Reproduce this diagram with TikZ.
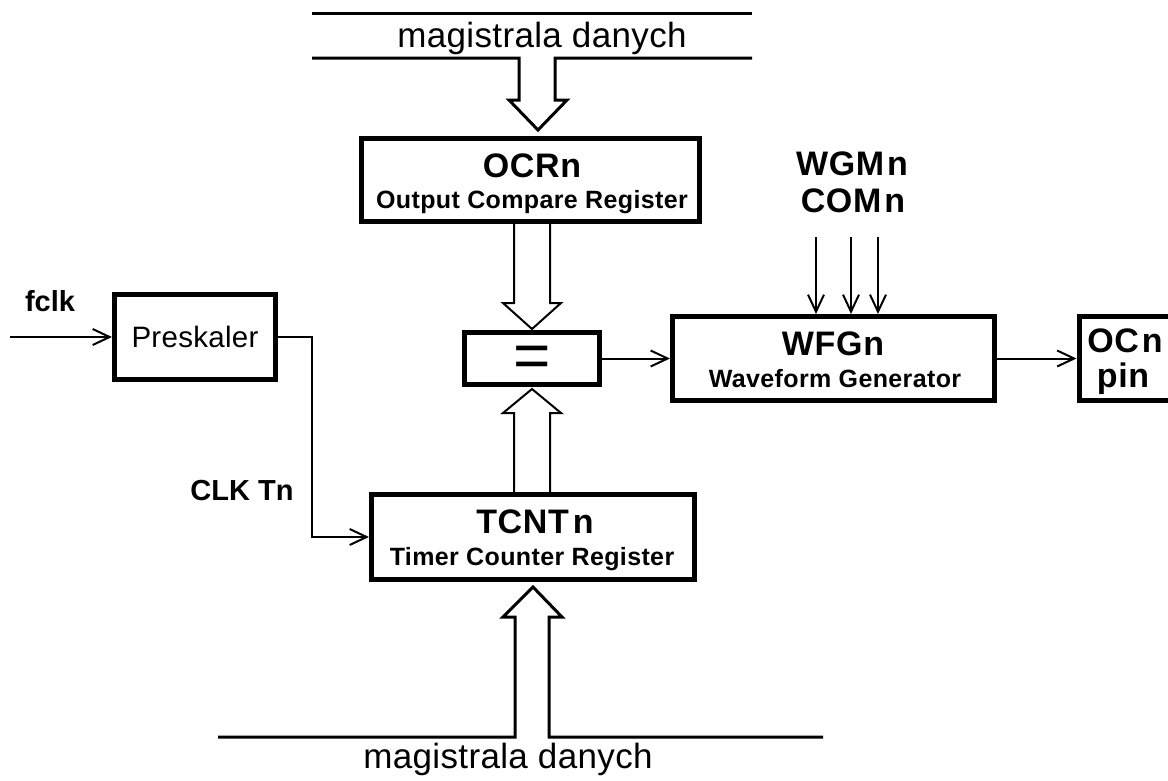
\documentclass[tikz,border=0pt]{standalone}
\usepackage{fontspec}
\setmainfont{Liberation Sans}
\usetikzlibrary{arrows.meta,calc}
\begin{document}
\begin{tikzpicture}[x=1pt,y=-1pt,inner sep=0pt,
  box/.style={draw,line width=5pt,inner sep=0pt,line join=miter},
  conn/.style={line width=2pt,-{Straight Barb[length=17pt,width=16pt]}},
  bus/.style={line width=3pt,line join=miter},
  hollow/.style={line width=2pt,line join=miter},
  ttl/.style={anchor=base,font=\fontsize{34}{34}\selectfont\bfseries\addfontfeature{LetterSpace=2}},
  subt/.style={anchor=base,font=\fontsize{25}{25}\selectfont\bfseries\addfontfeature{LetterSpace=1.5}},
  lbl/.style={anchor=base,font=\fontsize{29}{29}\selectfont\bfseries},
  bustxt/.style={anchor=base,font=\fontsize{35}{35}\selectfont\addfontfeature{LetterSpace=1}}]
\useasboundingbox (0,0) rectangle (1168,780);

% boxes
\node[box,minimum width=338pt,minimum height=83pt] (ocr) at (530,180) {};
\node[box,minimum width=135pt,minimum height=52pt] (eq) at (532,358.5) {};
\node[box,minimum width=323pt,minimum height=85pt] (tcnt) at (533,537) {};
\node[box,minimum width=161pt,minimum height=85pt,font=\fontsize{29.5}{29.5}\selectfont\addfontfeature{LetterSpace=1}] (pre) at (195,337) {Preskaler};
\node[box,minimum width=322pt,minimum height=84pt] (wfg) at (833.5,358.5) {};
\node[box,minimum width=98pt,minimum height=84pt] (ocn) at (1128,358.5) {};

% texts in boxes
\node[ttl] (ocrT) at (532,177) {OCRn};
\node[subt] (ocrS) at (532,208.5) {Output Compare Register};
\node[anchor=base,font=\fontsize{64}{64}\selectfont] (eqT) at (532,377) {=};
\node[ttl] (tcntT) at (535,533) {TCNT\kern4pt n};
\node[subt] (tcntS) at (532,565) {Timer Counter Register};
\node[ttl] (wfgT) at (833,355) {WFGn};
\node[subt] (wfgS) at (835,387) {Waveform Generator};
\node[ttl] (ocnT) at (1125,352) {OC\kern3pt n};
\node[ttl] (ocnS) at (1123,387) {pin};

% labels
\node[ttl] (wgm) at (852,175) {WGM\kern3pt n};
\node[ttl] (com) at (853,212) {COM\kern3pt n};
\node[lbl] (fclk) at (50,311) {fclk};
\node[lbl] (clkt) at (242,500) {CLK Tn};
\node[bustxt] (busT) at (542,47) {magistrala danych};
\node[bustxt] (busB) at (508,768) {magistrala danych};

% top bus
\coordinate (tb1) at (312,13);
\coordinate (tb2) at (752,13);
\draw[bus] (tb1) -- (tb2);
\draw[bus] (312,58) -- (519,58) -- (519,100) -- (509,100) -- ($(ocr.north)+(8,-6)$) -- (567,100) -- (555,100) -- (555,58) -- (752,58);

% OCR -> eq
\coordinate (sL) at (514,303);
\coordinate (sR) at (550,303);
\draw[hollow] (ocr.south -| sL) -- (sL) -- ($(sL)+(-11,0)$) -- ($(eq.north)+(0,-1)$) -- ($(sR)+(11,0)$) -- (sR) -- (ocr.south -| sR);

% TCNT -> eq
\coordinate (tL) at (514,413);
\coordinate (tR) at (550,413);
\draw[hollow] (tcnt.north -| tL) -- (tL) -- ($(tL)+(-11,0)$) -- ($(eq.south)+(0,2)$) -- ($(tR)+(11,0)$) -- (tR) -- (tcnt.north -| tR);

% bottom bus
\coordinate (bL) at (515,617);
\coordinate (bR) at (549,617);
\draw[bus] (218,737) -- (bL |- 0,737) -- (bL) -- ($(bL)+(-12,0)$) -- ($(tcnt.south)+(0,5)$) -- ($(bR)+(13,0)$) -- (bR) -- (bR |- 0,737) -- (823,737);

% connectors
\coordinate (fin) at (10,337);
\draw[conn] (fin) -- (pre.west);
\draw[conn] (pre.east) -- ++(34,0) |- (tcnt.west);
\draw[conn] (eq.east) -- (wfg.west);
\draw[conn] (wfg.east) -- (ocn.west);
\coordinate (w1) at (816,237);
\coordinate (w2) at (851,237);
\coordinate (w3) at (878,237);
\draw[conn] (w1) -- (w1 |- wfg.north);
\draw[conn] (w2) -- (w2 |- wfg.north);
\draw[conn] (w3) -- (w3 |- wfg.north);
\end{tikzpicture}
\end{document}
